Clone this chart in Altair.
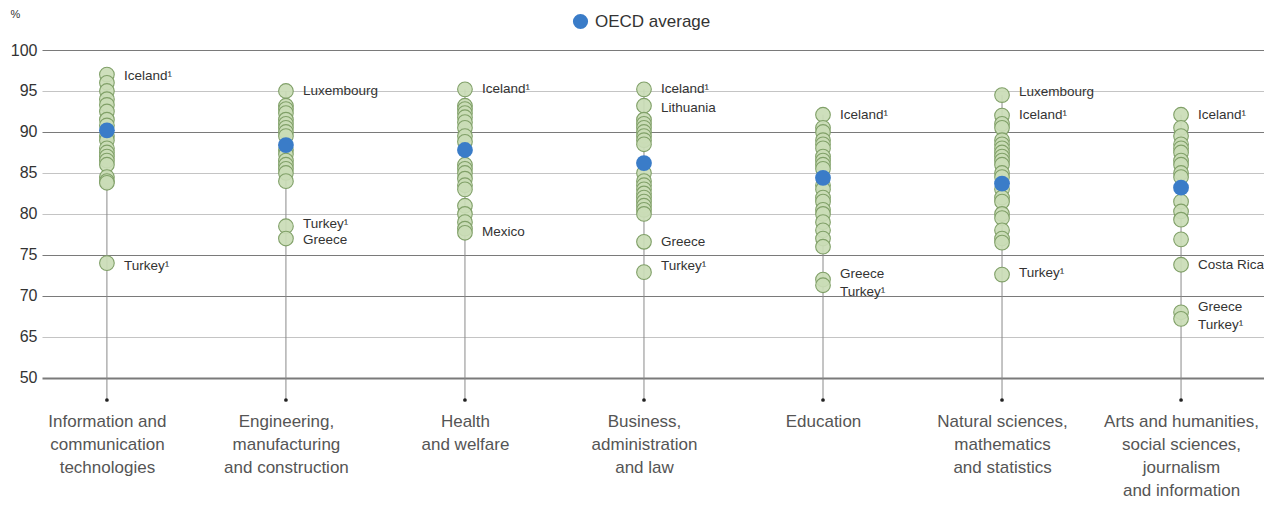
import altair as alt
import pandas as pd

# ---------------- data ----------------
categories = [
    "Information and\ncommunication\ntechnologies",
    "Engineering,\nmanufacturing\nand construction",
    "Health\nand welfare",
    "Business,\nadministration\nand law",
    "Education",
    "Natural sciences,\nmathematics\nand statistics",
    "Arts and humanities,\nsocial sciences,\njournalism\nand information",
]

ict = [97.0, 96.0, 95.0, 94.0, 93.3, 92.5, 91.5, 90.8, 89.5, 89.0, 88.0, 87.5,
       87.0, 86.5, 86.0, 84.5, 84.0, 83.8, 74.0]
engineering = [95.0, 93.2, 92.8, 92.3, 91.5, 91.0, 90.5, 90.0, 89.5, 87.8, 87.3,
               86.5, 86.0, 85.5, 85.0, 84.0, 78.5, 77.0]
health = [95.2, 93.2, 92.8, 92.3, 91.8, 91.2, 90.5, 89.5, 88.8, 86.0, 85.5, 85.0,
          84.3, 83.5, 83.0, 81.0, 80.0, 79.0, 78.2, 77.7]
business = [95.2, 93.2, 91.5, 91.0, 90.5, 90.0, 89.5, 89.0, 88.5, 85.0, 84.0, 83.5,
            83.0, 82.5, 82.0, 81.5, 81.0, 80.5, 80.0, 76.6, 72.9]
education = [92.1, 90.5, 90.0, 89.0, 88.5, 88.0, 87.0, 86.5, 86.0, 85.5, 83.5, 83.0,
             82.0, 81.5, 80.5, 80.0, 79.0, 78.0, 77.0, 76.0, 72.0, 71.3]
natural = [94.5, 92.0, 91.0, 90.5, 89.0, 88.5, 88.0, 87.5, 87.0, 86.5, 86.0, 85.0,
           84.5, 83.0, 82.0, 81.5, 80.0, 79.5, 78.0, 77.0, 76.5, 72.6]
arts = [92.1, 90.5, 89.5, 88.5, 88.0, 87.5, 86.5, 86.0, 85.0, 84.5, 81.5, 80.3,
        79.3, 76.9, 73.8, 68.0, 67.2]

oecd_average = [90.2, 88.4, 87.8, 86.2, 84.4, 83.7, 83.2]

label_cats = [0, 0, 1, 1, 1, 2, 2, 3, 3, 3, 3, 4, 4, 4, 5, 5, 5, 6, 6, 6, 6]
label_texts = ["Iceland¹", "Turkey¹", "Luxembourg", "Turkey¹", "Greece", "Iceland¹",
               "Mexico", "Iceland¹", "Lithuania", "Greece", "Turkey¹", "Iceland¹",
               "Greece", "Turkey¹", "Luxembourg", "Iceland¹", "Turkey¹", "Iceland¹",
               "Costa Rica", "Greece", "Turkey¹"]
label_values = [96.8, 73.7, 95.0, 78.8, 76.8, 95.2,
                77.8, 95.2, 92.9, 76.6, 73.7, 92.1,
                72.7, 70.5, 94.9, 92.1, 72.8, 92.1,
                73.8, 68.7, 66.5]

y_ticks = [60, 65, 70, 75, 80, 85, 90, 95, 100]   # 60 is drawn as the broken-axis "50"

# ---------------- tables ----------------
series = [ict, engineering, health, business, education, natural, arts]
rows = []
for c, vals in zip(categories, series):
    for v in vals:
        rows.append({"cat": c, "value": v})
points_df = pd.DataFrame(rows)

avg_df = pd.DataFrame({"cat": categories, "value": oecd_average,
                       "series": ["OECD average"] * len(categories)})

labels_df = pd.DataFrame([{"cat": categories[i], "value": v, "text": t}
                          for i, t, v in zip(label_cats, label_texts, label_values)])

cats_df = pd.DataFrame({"cat": categories})

# ---------------- encodings ----------------
FONT = "Liberation Sans"
W, H = 1222, 350

dark = ("datum.value == 100 || datum.value == 90 || datum.value == 75 || "
        "datum.value == 70 || datum.value == 60")

x_enc = alt.X(
    "cat:N", sort=categories,
    scale=alt.Scale(type="point", padding=0.413, align=0.439),
    axis=alt.Axis(title=None, domain=False, ticks=False, grid=False,
                  labelExpr="split(datum.label, '\\n')", labelAngle=0,
                  labelFontSize=17, labelLineHeight=23, labelPadding=13,
                  labelColor="#555555", labelFont=FONT),
)
y_scale = alt.Scale(domain=[57.3, 100], nice=False, zero=False)
y_axis = alt.Axis(
    title="%", titleAngle=0, titleAlign="left", titleBaseline="middle",
    titleX=-32, titleY=-36, titleFontSize=11, titleFontWeight="normal",
    titleColor="#333333", titleFont=FONT,
    values=y_ticks, labelExpr="datum.value == 60 ? '50' : datum.label",
    domain=False, ticks=False, labelPadding=5, labelFontSize=16,
    labelColor="#333333", labelFont=FONT,
    grid=True,
    gridColor=alt.condition(dark, alt.value("#7a7a7a"), alt.value("#c4c4c4")),
    gridWidth=alt.condition("datum.value == 60", alt.value(2), alt.value(1.2)),
)

stems = alt.Chart(points_df).mark_rule(color="#8a8a8a", strokeWidth=1).encode(
    x=x_enc,
    y=alt.Y("max(value):Q", scale=y_scale, axis=y_axis),
    y2=alt.value(H),
)

end_dots = alt.Chart(cats_df).mark_circle(color="#222222", size=14, opacity=1).encode(
    x=alt.X("cat:N", sort=categories),
    y=alt.value(H),
)

dots = alt.Chart(points_df).mark_circle(
    fill="#cadcb6", stroke="#80a068", strokeWidth=1.1, size=215, opacity=1,
    fillOpacity=0.92,
).encode(
    x=alt.X("cat:N", sort=categories),
    y=alt.Y("value:Q"),
)

avg = alt.Chart(avg_df).mark_circle(size=250, opacity=1).encode(
    x=alt.X("cat:N", sort=categories),
    y=alt.Y("value:Q"),
    color=alt.Color(
        "series:N",
        scale=alt.Scale(domain=["OECD average"], range=["#3a7cc8"]),
        legend=alt.Legend(title=None, orient="none", legendX=530, legendY=-37,
                          symbolSize=230, symbolType="circle", symbolStrokeWidth=0,
                          labelFontSize=17, labelColor="#333333", labelFont=FONT,
                          labelOffset=6, padding=0),
    ),
)

texts = alt.Chart(labels_df).mark_text(
    align="left", baseline="middle", dx=17, fontSize=13.5, color="#333333", font=FONT,
).encode(
    x=alt.X("cat:N", sort=categories),
    y=alt.Y("value:Q"),
    text="text:N",
)

chart = alt.layer(stems, end_dots, dots, avg, texts).properties(
    width=W, height=H,
    autosize=alt.AutoSizeParams(type="none"),
    padding={"left": 34, "top": 42, "right": 0, "bottom": 98},
    background="white",
).configure_view(stroke=None)

chart.save("out.html", embed_options={"renderer": "svg", "actions": False})
